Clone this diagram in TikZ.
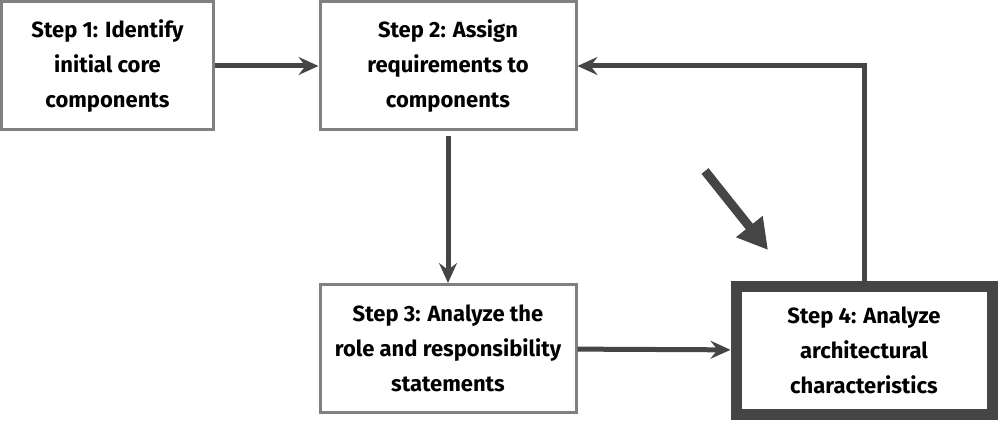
\documentclass[tikz,border=0pt]{standalone}
\usepackage{fontspec}
\setmainfont{Fira Sans}
\usetikzlibrary{arrows.meta}
\definecolor{boxgray}{HTML}{808080}
\definecolor{arrowgray}{HTML}{454545}
\tikzset{
  stepbox/.style={draw=boxgray,line width=3pt,fill=white,minimum width=256pt,
    minimum height=128pt,align=center,inner sep=0pt,
    font=\fontsize{22}{35}\selectfont\bfseries},
  keybox/.style={stepbox,draw=arrowgray,line width=11pt},
  flow/.style={-{Stealth[length=20pt,width=18pt,inset=7pt]},draw=arrowgray,line width=5pt},
  pointer/.style={-{Triangle[length=30pt,width=32pt]},draw=arrowgray,line width=9pt}
}

\begin{document}
\begin{tikzpicture}[x=1pt,y=-1pt]
    \useasboundingbox (0,0) rectangle (1000,422);
    \node[stepbox,minimum width=212pt] (s1) at (107.5,66) {Step 1: Identify\\initial core\\components};
    \node[stepbox] (s2) at (448,66) {Step 2: Assign\\requirements to\\components};
    \node[stepbox] (s3) at (448,348.5) {Step 3: Analyze the\\role and responsibility\\statements};
    \node[keybox] (s4) at (864,350.5) {Step 4: Analyze\\architectural\\characteristics};
    \draw[flow] (s1) -- (s2);
    \draw[flow,shorten <=5pt] (s2) -- (s3);
    \draw[flow] (s3) -- (s4);
    \draw[flow] (s4.north) |- (s2.east);
    % pointer to the current step
    \coordinate (hinttail) at (705,171);
    \coordinate (hinttip) at (768,250);
    \draw[pointer] (hinttail) -- (hinttip);
  \end{tikzpicture}
\end{document}
